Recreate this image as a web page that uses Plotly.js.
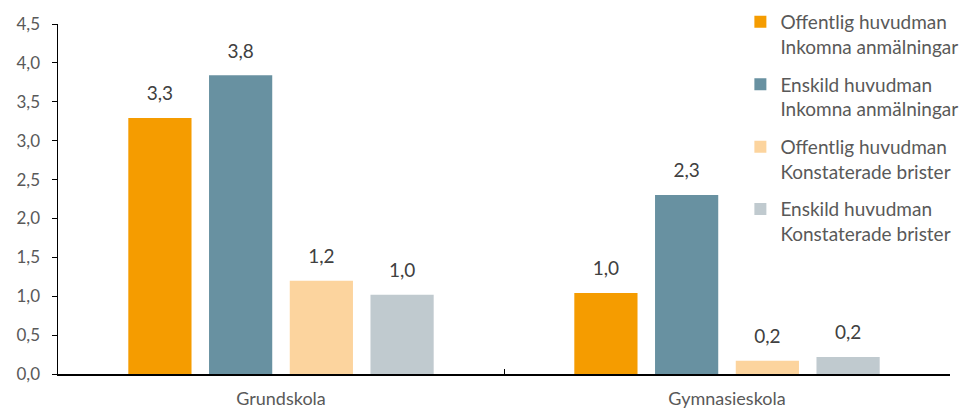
<!DOCTYPE html>
<html>
<head>
<meta charset="utf-8">
<script src="https://cdn.plot.ly/plotly-3.0.1.min.js"></script>
<style>html,body{margin:0;padding:0;background:#fff;}#chart{width:963px;height:411px;}</style>
</head>
<body>
<div id="chart"></div>
<script>
const categories = ["Grundskola", "Gymnasieskola"];
const seriesNames = [
  "Offentlig huvudman<br>Inkomna anmälningar",
  "Enskild huvudman<br>Inkomna anmälningar",
  "Offentlig huvudman<br>Konstaterade brister",
  "Enskild huvudman<br>Konstaterade brister"
];
const offentligInkomna = [3.29, 1.04];
const enskildInkomna = [3.84, 2.30];
const offentligBrister = [1.20, 0.17];
const enskildBrister = [1.02, 0.22];
const yTicks = [0, 0.5, 1, 1.5, 2, 2.5, 3, 3.5, 4, 4.5];
const colors = ["#F59C00", "#6891A1", "#FCD49E", "#C0CACF"];

const seriesValues = [offentligInkomna, enskildInkomna, offentligBrister, enskildBrister];
const FONT = "Lato, 'Open Sans', sans-serif";

const traces = [];
seriesValues.forEach((vals, i) => {
  traces.push({
    type: "bar",
    name: seriesNames[i],
    x: categories,
    y: vals,
    marker: {color: colors[i]},
    offsetgroup: "s" + i,
    legendgroup: "g" + i,
    hoverinfo: "none"
  });
});
seriesValues.forEach((vals, i) => {
  traces.push({
    type: "scatter",
    mode: "markers+text",
    x: categories,
    y: vals,
    offsetgroup: "s" + i,
    marker: {size: 19, color: "rgba(0,0,0,0)"},
    text: vals.map(v => v.toFixed(1).replace(".", ",")),
    textposition: "top center",
    textfont: {family: FONT, size: 19, color: "#404040"},
    cliponaxis: false,
    showlegend: false,
    legendgroup: "g" + i,
    hoverinfo: "none"
  });
});

const layout = {
  width: 963,
  height: 411,
  margin: {l: 58, r: 13, t: 24, b: 37, autoexpand: false},
  paper_bgcolor: "#ffffff",
  plot_bgcolor: "#ffffff",
  separators: ", ",
  barmode: "group",
  bargap: 0.276,
  bargroupgap: 0.217,
  scattermode: "group",
  scattergap: 0.276,
  showlegend: true,
  legend: {
    x: 0.765, xanchor: "left",
    y: 1.06, yanchor: "top",
    font: {family: FONT, size: 19, color: "#595959"},
    valign: "top",
    tracegroupgap: 10,
    maxheight: 400,
    bgcolor: "rgba(0,0,0,0)",
    itemwidth: 30
  },
  xaxis: {
    type: "category",
    showline: true,
    linecolor: "#000000",
    linewidth: 1.5,
    ticks: "inside",
    tickson: "boundaries",
    ticklen: 5,
    tickcolor: "#000000",
    ticklabelstandoff: 8,
    tickfont: {family: FONT, size: 18, color: "#595959"},
    showgrid: false,
    zeroline: false
  },
  yaxis: {
    range: [0, 4.5],
    tickvals: yTicks,
    tickformat: ".1f",
    showline: true,
    linecolor: "#000000",
    linewidth: 1.5,
    ticks: "outside",
    ticklen: 5,
    tickcolor: "#000000",
    ticklabelstandoff: 8,
    tickfont: {family: FONT, size: 17, color: "#595959"},
    showgrid: false,
    zeroline: false
  }
};

Plotly.newPlot("chart", traces, layout, {displayModeBar: false, staticPlot: true});
</script>
</body>
</html>
